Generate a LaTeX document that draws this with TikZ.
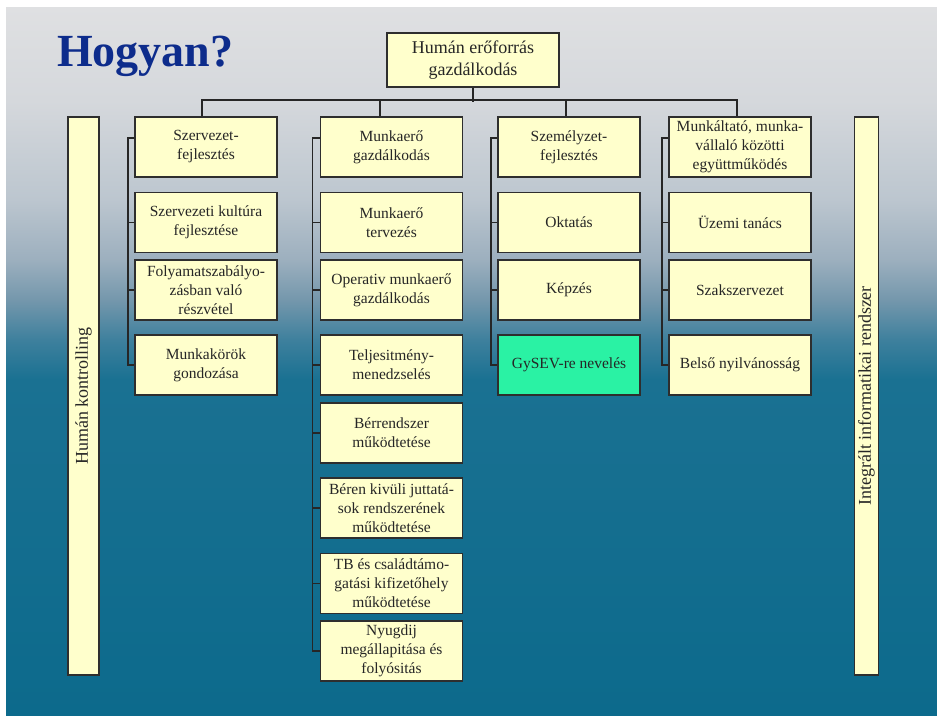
\documentclass[tikz,border=0pt]{standalone}
\usepackage{fontspec}
\setmainfont{Liberation Serif}
\usepackage{tikz}
\usetikzlibrary{calc}

\definecolor{boxfill}{HTML}{FFFFCC}
\definecolor{boxline}{HTML}{2E2E2E}
\definecolor{gysev}{HTML}{2AF2A4}
\definecolor{titleblue}{HTML}{0D2C8C}
\definecolor{bgtop}{HTML}{DFE0E2}
\definecolor{bgtopb}{HTML}{D5D8DC}
\definecolor{bga}{HTML}{BCC6CF}
\definecolor{bgb}{HTML}{9CAFBE}
\definecolor{bgc}{HTML}{7497AC}
\definecolor{bgd}{HTML}{3E809D}
\definecolor{bge}{HTML}{1A7192}
\definecolor{bgf}{HTML}{0C6A8C}
\pgfdeclareverticalshading{slidebg}{100bp}{color(0bp)=(bgf); color(25bp)=(bgf); color(48.7bp)=(bge); color(51.5bp)=(bgd); color(54.3bp)=(bgc); color(57.1bp)=(bgb); color(61.4bp)=(bga); color(68.4bp)=(bgtopb); color(75bp)=(bgtop); color(100bp)=(bgtop)}

\begin{document}
\begin{tikzpicture}
	[x=1pt,y=-1pt,
	box/.style={draw=boxline, fill=boxfill, line width=1.6pt, minimum width=142pt, minimum height=60pt, inner sep=1pt, align=center, text=black!85, font=\fontsize{15.5}{19}\selectfont},
	bar/.style={draw=boxline, fill=boxfill, line width=1.6pt, rotate=90, minimum width=558pt, inner sep=0pt, text=black!85, font=\fontsize{18}{22}\selectfont},
	tree/.style={line width=1.5pt, draw=black!85}]
	\useasboundingbox (0,0) rectangle (937,715);
	\shade[shading=slidebg] (6,7) rectangle (937,715);
	
	\node[anchor=base west, inner sep=0pt, text=titleblue, font=\fontsize{46}{50}\selectfont\bfseries] (t) at (57,66) {Hogyan?};
	\node[box, minimum width=172pt, minimum height=54pt, font=\fontsize{18}{22}\selectfont] (hr) at (473,60) {Humán erőforrás\\gazdálkodás};
	
	\node[bar, minimum height=31pt] (hk) at (83.5,396) {Humán kontrolling};
	\node[bar, minimum height=24pt] (ir) at (866.5,396) {Integrált informatikai rendszer};
	
	% szervezet
	\node[box] (a1) at (206,147) {Szervezet-\\fejlesztés};
	\node[box] (a2) at (206,222.5) {Szervezeti kultúra\\fejlesztése};
	\node[box] (a3) at (206,290) {Folyamatszabályo-\\zásban való\\részvétel};
	\node[box] (a4) at (206,365) {Munkakörök\\gondozása};
	
	% munkaero
	\node[box] (b1) at (391.5,147) {Munkaerő\\gazdálkodás};
	\node[box] (b2) at (391.5,222.5) {Munkaerő\\tervezés};
	\node[box] (b3) at (391.5,290) {Operativ munkaerő\\gazdálkodás};
	\node[box] (b4) at (391.5,365) {Teljesitmény-\\menedzselés};
	\node[box] (b5) at (391.5,433) {Bérrendszer\\működtetése};
	\node[box] (b6) at (391.5,508) {Béren kivüli juttatá-\\sok rendszerének\\működtetése};
	\node[box] (b7) at (391.5,583.5) {TB és családtámo-\\gatási kifizetőhely\\működtetése};
	\node[box] (b8) at (391.5,651) {Nyugdij\\megállapitása és\\folyósitás};
	
	% szemelyzet
	\node[box] (c1) at (569,147) {Személyzet-\\fejlesztés};
	\node[box] (c2) at (569,222.5) {Oktatás};
	\node[box] (c3) at (569,290) {Képzés};
	\node[box, fill=gysev] (c4) at (569,365) {GySEV-re nevelés};
	
	% munkaltato
	\node[box] (d1) at (740,147) {Munkáltató, munka-\\vállaló közötti\\együttműködés};
	\node[box] (d2) at (740,222.5) {Üzemi tanács};
	\node[box] (d3) at (740,290) {Szakszervezet};
	\node[box] (d4) at (740,365) {Belső nyilvánosság};
	
	\draw[tree] (hr.south) -- ++(0,14);
	\draw[tree] ([xshift=-4pt]a1.north) -- ++(0,-16) -| ([xshift=-3pt]d1.north);
	\draw[tree] ([xshift=-11.5pt]b1.north) -- ++(0,-16);
	\draw[tree] ([xshift=-3pt]c1.north) -- ++(0,-16);
	
	\draw[tree] ([yshift=9pt]a1.west) -- ++(-6,0) |- (a4.west);
	\draw[tree] ([yshift=9pt]b1.west) -- ++(-7,0) |- (b8.west);
	\draw[tree] ([yshift=9pt]c1.west) -- ++(-6,0) |- (c4.west);
	\draw[tree] ([yshift=9pt]d1.west) -- ++(-6,0) |- (d4.west);
	\foreach \n in {a2,a3,c2,c3,d2,d3}
		\draw[tree] (\n.west) -- ++(-6,0);
	\foreach \n in {b2,b3,b4,b5,b6,b7}
		\draw[tree] (\n.west) -- ++(-7,0);
\end{tikzpicture}
\end{document}
